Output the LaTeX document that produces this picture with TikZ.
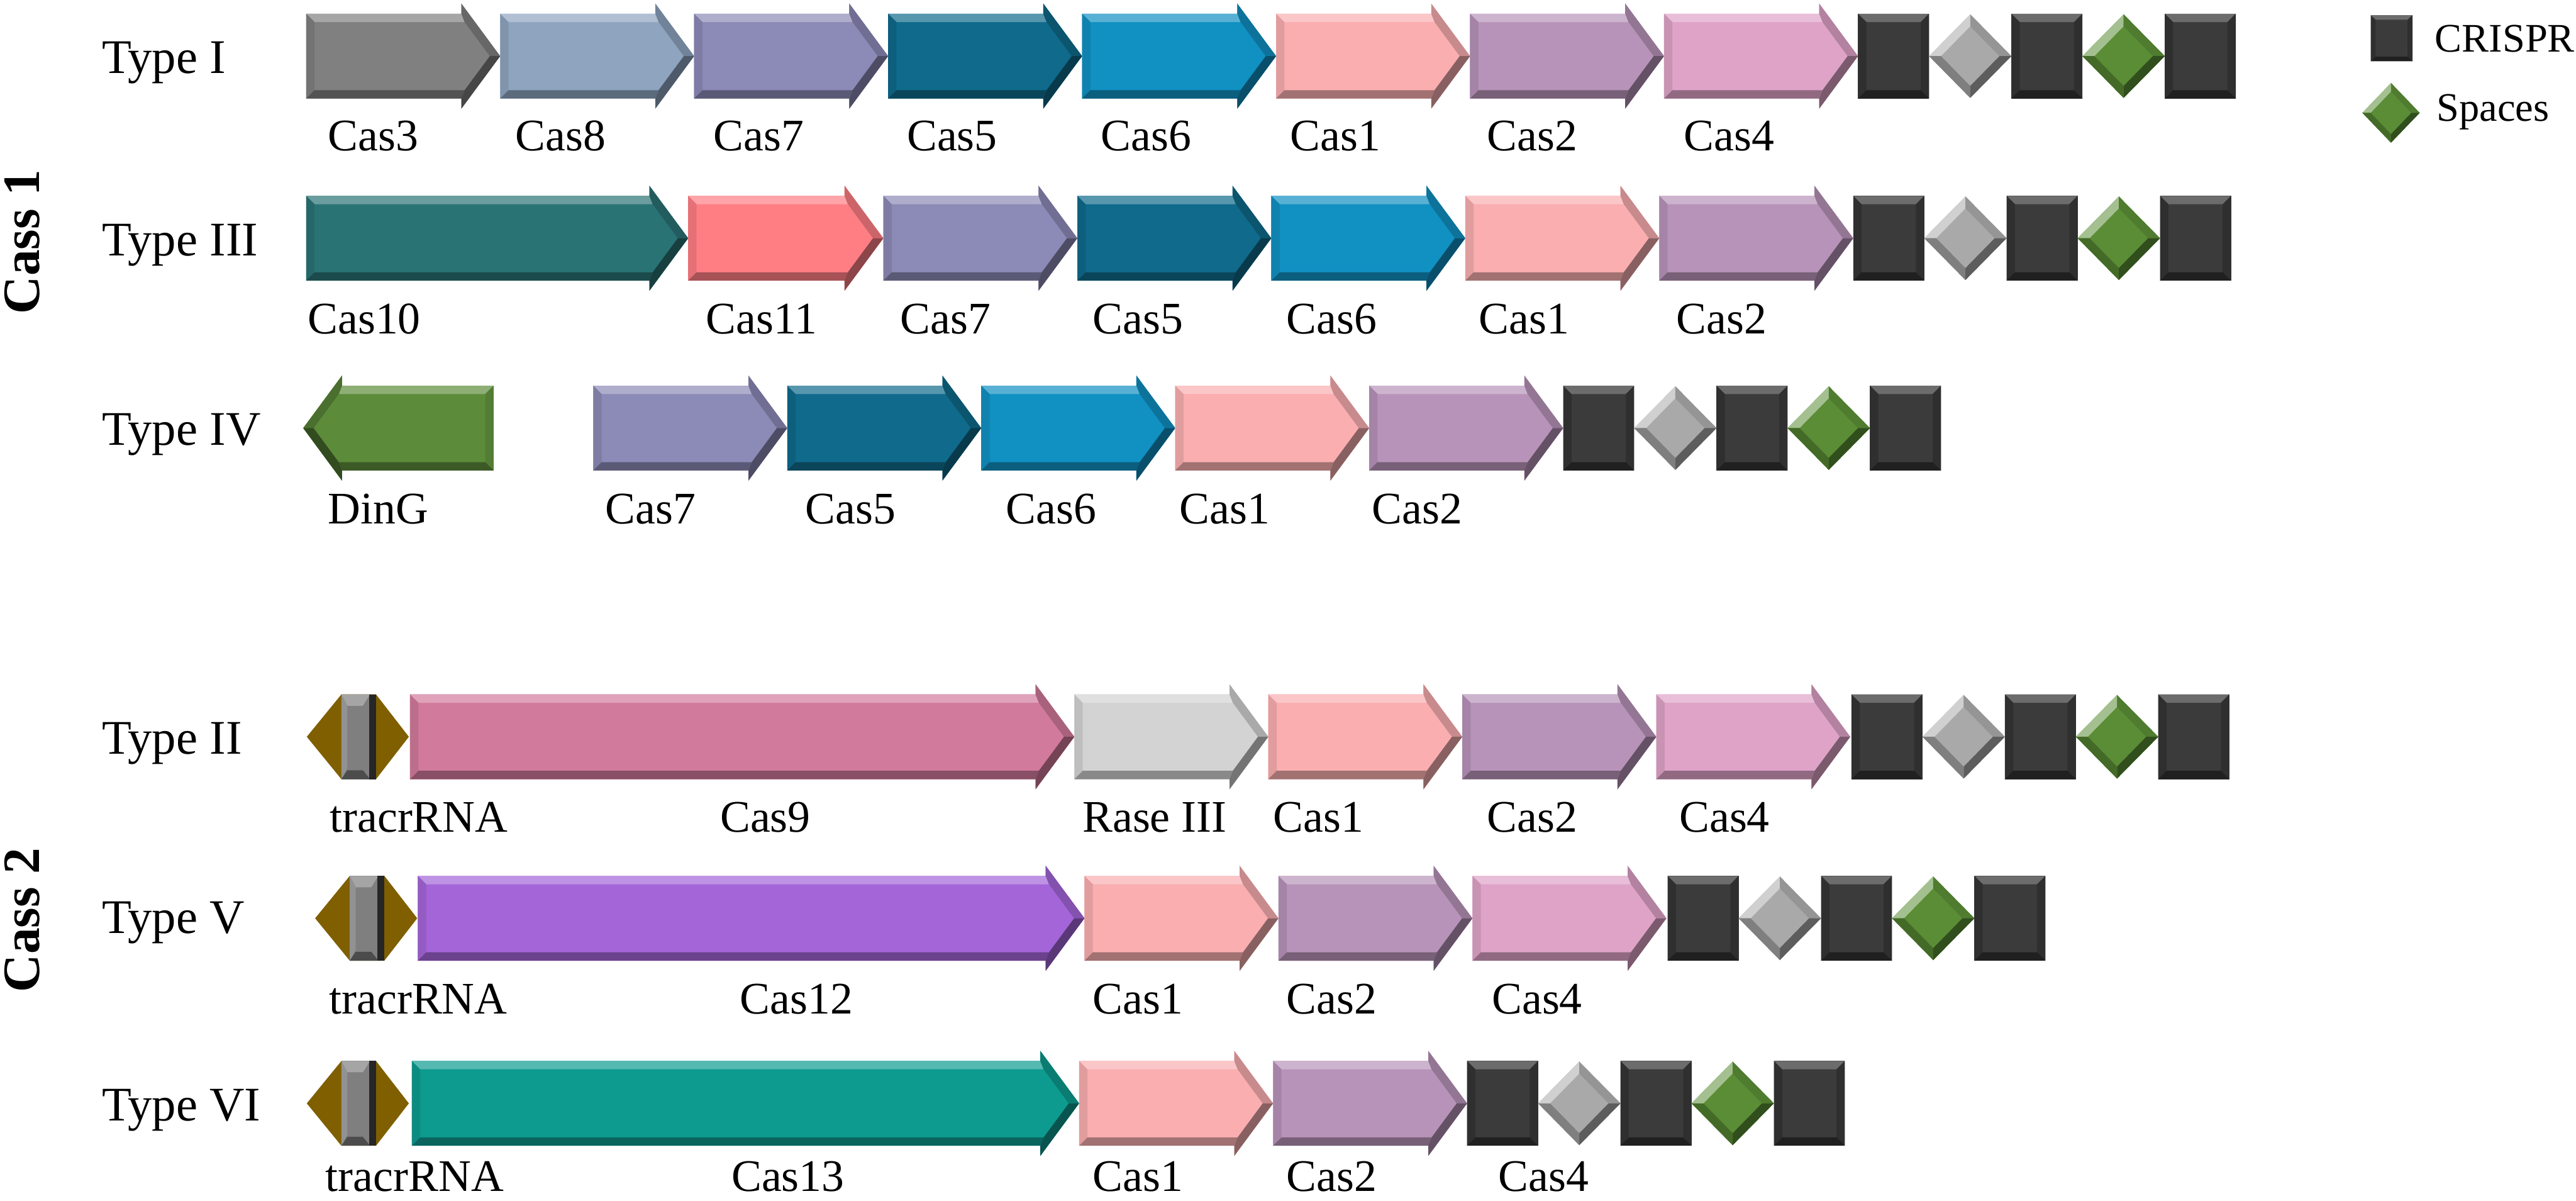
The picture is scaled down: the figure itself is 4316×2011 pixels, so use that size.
\documentclass[tikz,border=0pt]{standalone}
\usepackage{fontspec}
\setmainfont{Liberation Serif}
\usepackage{xcolor}
\usepackage{tikz}

\definecolor{cThree}{HTML}{808080}
\definecolor{cEight}{HTML}{8EA4BF}
\definecolor{cSeven}{HTML}{8C8AB6}
\definecolor{cFive}{HTML}{0F6A8B}
\definecolor{cSix}{HTML}{1190C2}
\definecolor{cOne}{HTML}{FAAEB0}
\definecolor{cTwo}{HTML}{B893B9}
\definecolor{cFour}{HTML}{DFA3C8}
\definecolor{cTen}{HTML}{2A7375}
\definecolor{cEleven}{HTML}{FF7E84}
\definecolor{cDinG}{HTML}{5C8B3A}
\definecolor{cNine}{HTML}{D27A9B}
\definecolor{cRase}{HTML}{D3D3D3}
\definecolor{cTwelve}{HTML}{A465D9}
\definecolor{cThirteen}{HTML}{0E9B8F}
\definecolor{crbox}{HTML}{3B3B3B}
\definecolor{spgray}{HTML}{A9A9A9}
\definecolor{spgreen}{HTML}{5A8D35}
\definecolor{tracr}{HTML}{7F5F00}
\definecolor{trbar}{HTML}{7F7F7F}

% gene arrow, back centre at the local origin, pointing right: length, colour
\newcommand{\genebody}[2]{%
  \fill[#2] (0,-71) -- ({#1-65},-71) -- ({#1-65},-88) -- (#1,0) -- ({#1-65},88) -- ({#1-65},71) -- (0,71) -- cycle;
  \fill[#2!70!white] (0,-71) -- ({#1-65},-71) -- ({#1-59.5},-57) -- (14,-57) -- cycle;
  \fill[#2!90!black] (0,-71) -- (14,-57) -- (14,57) -- (0,71) -- cycle;
  \fill[#2!65!black] (0,71) -- ({#1-65},71) -- ({#1-59.5},57) -- (14,57) -- cycle;
  \fill[#2!80!black] ({#1-65},-71) -- ({#1-65},-88) -- (#1,0) -- ({#1-17.4},0) -- ({#1-59.5},-57) -- cycle;
  \fill[#2!55!black] ({#1-65},71) -- ({#1-65},88) -- (#1,0) -- ({#1-17.4},0) -- ({#1-59.5},57) -- cycle;
}
% one repeat, left centre at the local origin
\newcommand{\repeatbox}{%
  \fill[crbox] (0,-71) rectangle (119,71);
  \fill[crbox!75!white] (0,-71) -- (119,-71) -- (105,-57) -- (14,-57) -- cycle;
  \fill[crbox!80!black] (0,-71) -- (14,-57) -- (14,57) -- (0,71) -- cycle;
  \fill[crbox!80!black] (119,-71) -- (105,-57) -- (105,57) -- (119,71) -- cycle;
  \fill[crbox!55!black] (0,71) -- (119,71) -- (105,57) -- (14,57) -- cycle;
}
% one spacer, centre at the local origin
\newcommand{\spacer}[1]{%
  \fill[#1] (-69,0) -- (0,-70) -- (69,0) -- (0,70) -- cycle;
  \fill[#1!55!white] (-69,0) -- (0,-70) -- (0,-50) -- (-49,0) -- cycle;
  \fill[#1!88!black] (0,-70) -- (69,0) -- (49,0) -- (0,-50) -- cycle;
  \fill[#1!55!black] (69,0) -- (0,70) -- (0,50) -- (49,0) -- cycle;
  \fill[#1!75!black] (0,70) -- (-69,0) -- (-49,0) -- (0,50) -- cycle;
}
% repeat, spacer, repeat, spacer, repeat
\newcommand{\crisprarray}[2]{%
  \begin{scope}[shift={(#1,#2)}]
    \repeatbox
    \begin{scope}[shift={(188,0)}]\spacer{spgray}\end{scope}
    \begin{scope}[shift={(257,0)}]\repeatbox\end{scope}
    \begin{scope}[shift={(445,0)}]\spacer{spgreen}\end{scope}
    \begin{scope}[shift={(514,0)}]\repeatbox\end{scope}
  \end{scope}
}
% tracrRNA mark, left point at the local origin
\newcommand{\tracrmark}{%
  \fill[tracr] (0,0) -- (58,-71) -- (116,-71) -- (171,0) -- (116,71) -- (58,71) -- cycle;
  \fill[trbar] (58,-71) rectangle (106,71);
  \fill[trbar!70!white] (58,-71) -- (106,-71) -- (94,-52) -- (68,-52) -- cycle;
  \fill[trbar!85!white] (58,-71) -- (68,-52) -- (68,52) -- (58,71) -- cycle;
  \fill[trbar!60!black] (58,71) -- (106,71) -- (94,56) -- (68,56) -- cycle;
  \fill[black!85] (104,-71) rectangle (116,71);
}

\begin{document}
\begin{tikzpicture}[
   x=0.01cm,
   y=-0.01cm,
   line join=round,
   genelbl/.style={font=\rmfamily\fontsize{21.5}{24}\selectfont, anchor=base west, inner sep=0pt},
   typelbl/.style={font=\rmfamily\fontsize{23}{26}\selectfont, anchor=base west, inner sep=0pt},
   casslbl/.style={font=\rmfamily\bfseries\fontsize{25}{28}\selectfont, rotate=90, inner sep=0pt},
   keylbl/.style={font=\rmfamily\fontsize{19.3}{22}\selectfont, anchor=base west, inner sep=0pt}
 ]
   \useasboundingbox (0,0) rectangle (4316,2011);

   % Class 1 loci.
   \node[casslbl] (cassone) at (37,405) {Cass 1};
   \node[typelbl] (typeI) at (170,123) {Type I};
   \node[typelbl] (typeIII) at (170,428) {Type III};
   \node[typelbl] (typeIV) at (170,746) {Type IV};

   \foreach \col [count=\i from 0] in {cThree,cEight,cSeven,cFive,cSix,cOne,cTwo,cFour}{
     \begin{scope}[shift={({513+325*\i},94)}]\genebody{325}{\col}\end{scope}
   }
   \crisprarray{3113}{94}
   \foreach \x/\t [count=\i] in {549/Cas3,863/Cas8,1195/Cas7,1519/Cas5,1844/Cas6,2161/Cas1,2491/Cas2,2821/Cas4}
     \node[genelbl] (labI-\i) at (\x,252) {\t};

   \begin{scope}[shift={(513,399)}]\genebody{640}{cTen}\end{scope}
   \begin{scope}[shift={(1153,399)}]\genebody{327}{cEleven}\end{scope}
   \foreach \col [count=\i from 0] in {cSeven,cFive,cSix,cOne,cTwo}{
     \begin{scope}[shift={({1480+325*\i},399)}]\genebody{325}{\col}\end{scope}
   }
   \crisprarray{3105}{399}
   \foreach \x/\t [count=\i] in {515/Cas10,1182/Cas11,1508/Cas7,1830/Cas5,2155/Cas6,2477/Cas1,2808/Cas2}
     \node[genelbl] (labIII-\i) at (\x,559) {\t};

   \begin{scope}[shift={(827,717)},xscale=-1]\genebody{319}{cDinG}\end{scope}
   \foreach \col [count=\i from 0] in {cSeven,cFive,cSix,cOne,cTwo}{
     \begin{scope}[shift={({994+325*\i},717)}]\genebody{325}{\col}\end{scope}
   }
   \crisprarray{2619}{717}
   \foreach \x/\t [count=\i] in {549/DinG,1014/Cas7,1349/Cas5,1685/Cas6,1976/Cas1,2298/Cas2}
     \node[genelbl] (labIV-\i) at (\x,877) {\t};

   % Class 2 loci.
   \node[casslbl] (casstwo) at (37,1541) {Cass 2};
   \node[typelbl] (typeII) at (170,1263) {Type II};
   \node[typelbl] (typeV) at (170,1563) {Type V};
   \node[typelbl] (typeVI) at (170,1877) {Type VI};

   \begin{scope}[shift={(514,1234)}]\tracrmark\end{scope}
   \begin{scope}[shift={(687,1234)}]\genebody{1113}{cNine}\end{scope}
   \begin{scope}[shift={(1800,1234)}]\genebody{325}{cRase}\end{scope}
   \foreach \col [count=\i from 0] in {cOne,cTwo,cFour}{
     \begin{scope}[shift={({2125+325*\i},1234)}]\genebody{325}{\col}\end{scope}
   }
   \crisprarray{3102}{1234}
   \foreach \x/\t [count=\i] in {552/tracrRNA,1206/Cas9,1813/Rase III,2133/Cas1,2491/Cas2,2813/Cas4}
     \node[genelbl] (labII-\i) at (\x,1394) {\t};

   \begin{scope}[shift={(528,1538)}]\tracrmark\end{scope}
   \begin{scope}[shift={(700,1538)}]\genebody{1117}{cTwelve}\end{scope}
   \foreach \col [count=\i from 0] in {cOne,cTwo,cFour}{
     \begin{scope}[shift={({1817+325*\i},1538)}]\genebody{325}{\col}\end{scope}
   }
   \crisprarray{2794}{1538}
   \foreach \x/\t [count=\i] in {551/tracrRNA,1239/Cas12,1830/Cas1,2155/Cas2,2499/Cas4}
     \node[genelbl] (labV-\i) at (\x,1698) {\t};

   \begin{scope}[shift={(514,1848)}]\tracrmark\end{scope}
   \begin{scope}[shift={(690,1848)}]\genebody{1118}{cThirteen}\end{scope}
   \foreach \col [count=\i from 0] in {cOne,cTwo}{
     \begin{scope}[shift={({1808+325*\i},1848)}]\genebody{325}{\col}\end{scope}
   }
   \crisprarray{2458}{1848}
   \foreach \x/\t [count=\i] in {545/tracrRNA,1225/Cas13,1830/Cas1,2155/Cas2,2510/Cas4}
     \node[genelbl] (labVI-\i) at (\x,1995) {\t};

   % Key.
   \begin{scope}[shift={(3972,64)},xscale=0.588,yscale=0.542]\repeatbox\end{scope}
   \begin{scope}[shift={(4006,189)},xscale=0.696,yscale=0.714]\spacer{spgreen}\end{scope}
   \node[keylbl] (keyrepeat) at (4079,87) {CRISPR};
   \node[keylbl] (keyspacer) at (4082,203) {Spaces};
 \end{tikzpicture}
\end{document}
